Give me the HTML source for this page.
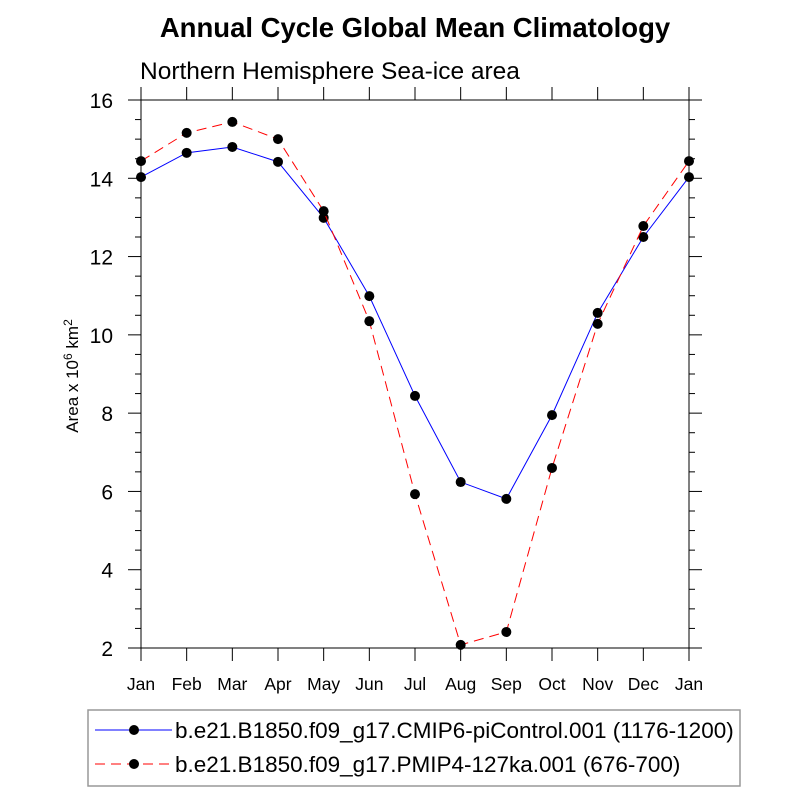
<!DOCTYPE html>
<html><head><meta charset="utf-8"><style>
body{margin:0;background:#fff}
svg text{font-family:"Liberation Sans",sans-serif}
</style></head><body>
<svg id="chart" width="800" height="800" viewBox="0 0 800 800" xmlns="http://www.w3.org/2000/svg">
<text x="415" y="37" text-anchor="middle" font-size="27.5" font-weight="bold">Annual Cycle Global Mean Climatology</text>
<text x="140" y="79" font-size="24.5">Northern Hemisphere Sea-ice area</text>
<text transform="translate(78,376) rotate(-90)" text-anchor="middle" font-size="17">Area x 10<tspan dy="-6" font-size="12">6</tspan><tspan dy="6"> km</tspan><tspan dy="-6" font-size="12">2</tspan></text>
<g id="axes"></g>
<g id="series"></g>
<rect x="88" y="710" width="652" height="76" fill="none" stroke="#999" stroke-width="1.5"/>
<g>
<line x1="95" y1="730" x2="172" y2="730" stroke="#00f" stroke-width="1"/>
<circle cx="134" cy="730" r="5" fill="#000"/>
<text x="175" y="738" font-size="22.5">b.e21.B1850.f09_g17.CMIP6-piControl.001 (1176-1200)</text>
</g>
<g>
<line x1="95" y1="764" x2="172" y2="764" stroke="#f00" stroke-width="1" stroke-dasharray="10,6"/>
<circle cx="134" cy="764" r="5" fill="#000"/>
<text x="175" y="772" font-size="22.5">b.e21.B1850.f09_g17.PMIP4-127ka.001 (676-700)</text>
</g>
</svg>
<script>
const months = ["Jan","Feb","Mar","Apr","May","Jun","Jul","Aug","Sep","Oct","Nov","Dec","Jan"];
const piControl = [14.03,14.65,14.8,14.42,12.99,10.99,8.44,6.24,5.81,7.95,10.56,12.5,14.03];
const pmip127ka = [14.44,15.16,15.44,15.0,13.16,10.35,5.93,2.08,2.41,6.6,10.28,12.78,14.44];
const yTicks = [2,4,6,8,10,12,14,16];
const NS="http://www.w3.org/2000/svg";
const X0=141,X1=689,Y0=648,Y1=100,YMIN=2,YMAX=16;
function xs(i){return X0+(X1-X0)*i/(months.length-1);}
function ys(v){return Y0-(v-YMIN)*(Y0-Y1)/(YMAX-YMIN);}
function mk(tag,attrs,parent){const e=document.createElementNS(NS,tag);for(const k in attrs)e.setAttribute(k,attrs[k]);parent.appendChild(e);return e;}
const axes=document.getElementById('axes');
const frame=mk('rect',{x:X0,y:Y1,width:X1-X0,height:Y0-Y1,fill:'none',stroke:'#000','stroke-width':1},axes);


months.forEach((m,i)=>{
  const x=xs(i);
  const t1=mk('line',{x1:x,y1:Y0,x2:x,y2:Y0+13,stroke:'#000'},axes);
  
  
  const t2=mk('line',{x1:x,y1:Y1,x2:x,y2:Y1-13,stroke:'#000'},axes);
  
  
  const tx=mk('text',{x:x,y:Y0+42,'text-anchor':'middle','font-size':17.5},axes);
  tx.textContent=m;
  
  
});
for(let v=YMIN;v<=YMAX+1e-9;v+=0.5){
  const y=ys(v);const major=yTicks.includes(v);const L=major?13:6;
  const a=mk('line',{x1:X0-L,y1:y,x2:X0,y2:y,stroke:'#000'},axes);
  
  
  const b=mk('line',{x1:X1,y1:y,x2:X1+L,y2:y,stroke:'#000'},axes);
  
  
}
yTicks.forEach(v=>{
  const t=mk('text',{x:113,y:ys(v)+8,'text-anchor':'end','font-size':21},axes);
  t.textContent=v;
  
  
});
const sg=document.getElementById('series');
function draw(vals,color,dash,name){
  const g=mk('g',{},sg);
  
  
  const p=mk('polyline',{points:vals.map((v,i)=>xs(i)+','+ys(v)).join(' '),fill:'none',stroke:color,'stroke-width':1},g);
  if(dash)p.setAttribute('stroke-dasharray',dash);
  
  
  vals.forEach((v,i)=>{
    const c=mk('circle',{cx:xs(i),cy:ys(v),r:5,fill:'#000'},g);
    
    
  });
}
draw(piControl,'#00f',null,'picontrol-series');
draw(pmip127ka,'#f00','10,6','pmip4-127ka-series');
</script>
</body></html>
